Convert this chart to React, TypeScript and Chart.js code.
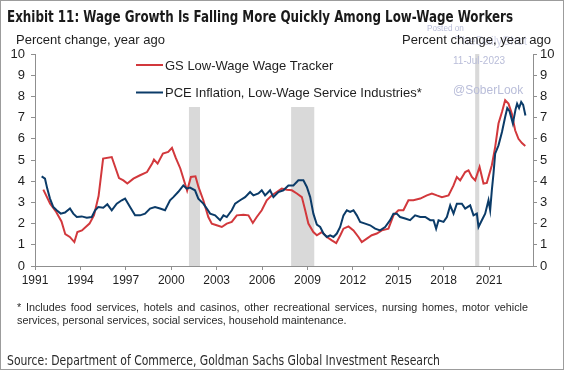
import React, { useEffect, useRef } from "react";
import { Chart, registerables } from "chart.js";
Chart.register(...registerables);

const xTickYears = [1991, 1994, 1997, 2000, 2003, 2006, 2009, 2012, 2015, 2018, 2021];
const yTickValues = [0, 1, 2, 3, 4, 5, 6, 7, 8, 9, 10];
const seriesNames = ["GS Low-Wage Wage Tracker", "PCE Inflation, Low-Wage Service Industries*"];
const recessionStarts = [2001.17, 2007.92, 2020.08];
const recessionEnds = [2001.9, 2009.45, 2020.35];

const redYears = [
  1991.55, 1992.0, 1992.4, 1992.75, 1993.0, 1993.3, 1993.6, 1993.8, 1994.1, 1994.6, 1994.9, 1995.2, 1995.5,
  1996.07, 1996.55, 1996.84, 1997.1, 1997.5, 1997.94, 1998.4, 1998.75, 1998.86, 1999.1, 1999.45, 1999.8,
  2000.05, 2000.3, 2000.6, 2000.9, 2001.05, 2001.3, 2001.6, 2001.8, 2002.12, 2002.45, 2002.68, 2003.0,
  2003.34, 2003.67, 2004.0, 2004.33, 2004.77, 2005.1, 2005.39, 2005.65, 2005.98, 2006.31, 2006.64, 2006.97,
  2007.3, 2007.64, 2007.97, 2008.3, 2008.63, 2008.85, 2009.06, 2009.39, 2009.62, 2009.95, 2010.28, 2010.61,
  2010.9, 2011.17, 2011.38, 2011.71, 2012.04, 2012.37, 2012.59, 2012.92, 2013.25, 2013.58, 2013.91, 2014.35,
  2014.68, 2015.01, 2015.34, 2015.67, 2016.0, 2016.45, 2016.89, 2017.22, 2017.55, 2017.88, 2018.32, 2018.65,
  2018.87, 2019.09, 2019.42, 2019.64, 2019.86, 2020.08, 2020.37, 2020.63, 2020.85, 2021.18, 2021.4, 2021.62,
  2021.85, 2022.06, 2022.28, 2022.5, 2022.72, 2022.94, 2023.17, 2023.39,
];
const redValues = [
  3.6, 2.94, 2.55, 2.1, 1.5, 1.37, 1.13, 1.6, 1.68, 2.0, 2.4, 3.3, 5.07,
  5.14, 4.15, 4.04, 3.89, 4.12, 4.28, 4.43, 4.85, 5.02, 4.83, 5.3, 5.38,
  5.57, 5.1, 4.6, 3.9, 3.55, 4.2, 4.23, 3.73, 3.1, 2.31, 2.0, 1.92,
  1.84, 2.0, 2.08, 2.39, 2.42, 2.39, 2.03, 2.31, 2.63, 3.1, 3.33, 3.49,
  3.65, 3.6, 3.57, 3.42, 3.25, 2.63, 2.0, 1.6, 1.45, 1.6, 1.37, 1.21,
  1.08, 1.45, 1.76, 1.87, 1.68, 1.37, 1.13, 1.29, 1.45, 1.53, 1.68, 1.76,
  2.39, 2.63, 2.63, 3.1, 3.1, 3.18, 3.33, 3.42, 3.33, 3.25, 3.33, 3.8,
  4.2, 4.04, 4.43, 4.51, 4.2, 4.04, 4.67, 3.89, 3.92, 4.75, 5.61, 6.72,
  7.26, 7.82, 7.66, 7.19, 6.4, 6.0, 5.8, 5.66,
];

const blueYears = [
  1991.44, 1991.66, 1991.81, 1991.99, 1992.21, 1992.43, 1992.7, 1992.98, 1993.31, 1993.53, 1993.76, 1994.09,
  1994.42, 1994.75, 1994.97, 1995.18, 1995.51, 1995.78, 1996.07, 1996.4, 1996.73, 1996.95, 1997.28, 1997.61,
  1997.94, 1998.27, 1998.6, 1998.93, 1999.26, 1999.59, 1999.92, 2000.14, 2000.47, 2000.8, 2001.03, 2001.24,
  2001.57, 2001.79, 2002.12, 2002.35, 2002.57, 2002.9, 2003.23, 2003.45, 2003.67, 2004.0, 2004.22, 2004.55,
  2004.88, 2005.21, 2005.43, 2005.76, 2005.98, 2006.2, 2006.53, 2006.75, 2007.08, 2007.41, 2007.74, 2008.07,
  2008.4, 2008.73, 2008.96, 2009.18, 2009.39, 2009.62, 2009.84, 2010.06, 2010.28, 2010.5, 2010.72, 2010.94,
  2011.16, 2011.38, 2011.6, 2011.82, 2012.04, 2012.26, 2012.48, 2012.81, 2013.14, 2013.47, 2013.8, 2014.13,
  2014.46, 2014.68, 2014.9, 2015.12, 2015.45, 2015.78, 2016.11, 2016.45, 2016.78, 2017.11, 2017.33, 2017.5,
  2017.66, 2017.99, 2018.21, 2018.43, 2018.65, 2018.87, 2019.2, 2019.42, 2019.75, 2019.97, 2020.19, 2020.3,
  2020.52, 2020.74, 2020.96, 2021.07, 2021.18, 2021.29, 2021.4, 2021.62, 2021.85, 2022.06, 2022.2, 2022.35,
  2022.57, 2022.75, 2022.85, 2022.98, 2023.12, 2023.25, 2023.4,
];
const blueValues = [
  4.23, 4.12, 3.65, 3.18, 2.78, 2.63, 2.47, 2.52, 2.71, 2.47, 2.31, 2.34,
  2.28, 2.31, 2.63, 2.78, 2.75, 2.91, 2.63, 2.94, 3.1, 3.18, 2.78, 2.39,
  2.39, 2.47, 2.71, 2.78, 2.71, 2.63, 3.1, 3.25, 3.5, 3.8, 3.65, 3.7,
  3.57, 3.18, 2.94, 2.71, 2.47, 2.39, 2.16, 2.39, 2.31, 2.63, 2.94, 3.1,
  3.25, 3.49, 3.33, 3.42, 3.57, 3.33, 3.57, 3.25, 3.49, 3.57, 3.8, 3.8,
  4.04, 4.04, 3.73, 3.25, 2.47, 1.95, 1.84, 1.53, 1.37, 1.45, 1.37, 1.53,
  1.84, 2.39, 2.63, 2.55, 2.63, 2.39, 2.08, 2.0, 1.92, 1.76, 1.68, 1.84,
  2.16, 2.47, 2.47, 2.31, 2.24, 2.16, 2.39, 2.31, 2.31, 2.16, 2.16, 1.76,
  2.16, 2.08, 2.31, 2.86, 2.47, 2.94, 2.94, 2.71, 2.86, 2.39, 2.47, 1.84,
  2.16, 2.47, 3.1, 2.63, 3.57, 4.36, 5.3, 5.69, 6.32, 7.03, 7.45, 7.3,
  6.72, 7.4, 7.66, 7.45, 7.74, 7.6, 7.1,
];

const RED = "#d2383c";
const BLUE = "#0b3b68";
const AXIS = "#8f8f8f";
const TEXT = "#1e1e1e";
const FONT = "'Liberation Sans', Arial, sans-serif";
const NARROW = "'Liberation Sans Narrow', 'DejaVu Sans Condensed', 'Liberation Sans', Arial, sans-serif";

const bandsAndLegend = {
  id: "bandsAndLegend",
  beforeDatasetsDraw(chart: any) {
    const { ctx, chartArea, scales } = chart;
    const xs = scales.x;
    ctx.save();
    ctx.fillStyle = "#d9d9d9";
    recessionStarts.forEach((s, i) => {
      const x1 = xs.getPixelForValue(s);
      const x2 = xs.getPixelForValue(recessionEnds[i]);
      ctx.fillRect(x1, chartArea.top, x2 - x1, chartArea.bottom - chartArea.top);
    });
    // legend box (white, hides the bands behind it)
    ctx.fillStyle = "#ffffff";
    ctx.fillRect(128, chartArea.top, 304, 107 - chartArea.top);
    const rows = [65, 92.5];
    const colors = [RED, BLUE];
    ctx.font = `13px ${FONT}`;
    ctx.textBaseline = "middle";
    ctx.textAlign = "left";
    seriesNames.forEach((name, i) => {
      ctx.strokeStyle = colors[i];
      ctx.lineWidth = 2;
      ctx.beginPath();
      ctx.moveTo(136, rows[i]);
      ctx.lineTo(163, rows[i]);
      ctx.stroke();
      ctx.fillStyle = TEXT;
      ctx.fillText(name, 165, rows[i] + 1);
    });
    ctx.restore();
  },
};

function ScaledText(props: { text: string; style: any; width: number }) {
  const ref = useRef<HTMLSpanElement>(null);
  useEffect(() => {
    const el = ref.current;
    if (!el) return;
    el.style.transform = "none";
    const w = el.getBoundingClientRect().width;
    if (w > 0) el.style.transform = `scaleX(${props.width / w})`;
  }, [props.text, props.width]);
  return (
    <span
      ref={ref}
      style={{ position: "absolute", whiteSpace: "nowrap", transformOrigin: "0 0", ...props.style }}
    >
      {props.text}
    </span>
  );
}

export default function App() {
  const canvasRef = useRef<HTMLCanvasElement>(null);

  useEffect(() => {
    const canvas = canvasRef.current;
    if (!canvas) return;
    const tickFont = { family: FONT, size: 13 };
    const chart = new Chart(canvas, {
      type: "line",
      data: {
        datasets: [
          {
            label: seriesNames[1],
            data: blueYears.map((x, i) => ({ x, y: blueValues[i] })),
            borderColor: BLUE,
            borderWidth: 2,
            pointRadius: 0,
            fill: false,
            tension: 0,
          },
          {
            label: seriesNames[0],
            data: redYears.map((x, i) => ({ x, y: redValues[i] })),
            borderColor: RED,
            borderWidth: 2,
            pointRadius: 0,
            fill: false,
            tension: 0,
          },
        ],
      },
      options: {
        responsive: false,
        animation: false,
        devicePixelRatio: 1,
        layout: { padding: { top: 54, left: 0, right: 0, bottom: 0 } },
        plugins: { legend: { display: false }, tooltip: { enabled: false } },
        scales: {
          x: {
            type: "linear",
            min: 1991,
            max: 2023.9,
            afterBuildTicks: (s: any) => {
              s.ticks = xTickYears.map((v) => ({ value: v }));
            },
            afterFit: (s: any) => {
              s.height = 104;
            },
            grid: { drawOnChartArea: false, drawTicks: true, tickLength: 4, color: AXIS },
            border: { color: AXIS, width: 1 },
            ticks: {
              font: { family: FONT, size: 12 },
              color: TEXT,
              padding: 3,
              maxRotation: 0,
              autoSkip: false,
              callback: (v: any) => String(v),
            },
          },
          y: {
            position: "left",
            min: 0,
            max: 10,
            afterBuildTicks: (s: any) => {
              s.ticks = yTickValues.map((v) => ({ value: v }));
            },
            afterFit: (s: any) => {
              s.width = 35;
            },
            grid: { drawOnChartArea: false, drawTicks: true, tickLength: 4, color: AXIS },
            border: { color: AXIS, width: 1 },
            ticks: { font: tickFont, color: TEXT, padding: 6, callback: (v: any) => String(v) },
          },
          y2: {
            position: "right",
            min: 0,
            max: 10,
            afterBuildTicks: (s: any) => {
              s.ticks = yTickValues.map((v) => ({ value: v }));
            },
            afterFit: (s: any) => {
              s.width = 31;
            },
            grid: { drawOnChartArea: false, drawTicks: true, tickLength: 4, color: AXIS },
            border: { color: AXIS, width: 1 },
            ticks: { font: tickFont, color: TEXT, padding: 3, callback: (v: any) => String(v) },
          },
        },
      } as any,
      plugins: [bandsAndLegend],
    });
    return () => chart.destroy();
  }, []);

  const wm = "#b9bdd9";
  return (
    <div
      style={{
        position: "absolute",
        left: 0,
        top: 0,
        width: 564,
        height: 370,
        background: "#fff",
        overflow: "hidden",
        fontFamily: FONT,
      }}
    >
      <canvas ref={canvasRef} width={564} height={370} style={{ position: "absolute", left: 0, top: 0, width: 564, height: 370 }} />
      <ScaledText
        text="Exhibit 11: Wage Growth Is Falling More Quickly Among Low-Wage Workers"
        width={506}
        style={{ left: 7, top: 10, fontFamily: NARROW, fontWeight: 700, fontSize: 15.5, lineHeight: "15.5px", color: "#1a1a1a" }}
      />
      <span style={{ position: "absolute", left: 427, top: 25, fontSize: 8.2, lineHeight: "8.2px", color: wm, whiteSpace: "nowrap" }}>
        Posted on
      </span>
      <span style={{ position: "absolute", left: 455, top: 35, fontSize: 12, lineHeight: "12px", color: "#d6d8ea", whiteSpace: "nowrap" }}>
        TheDailyShot
      </span>
      <span style={{ position: "absolute", left: 16, top: 33, fontSize: 13, lineHeight: "13px", color: TEXT, whiteSpace: "nowrap" }}>
        Percent change, year ago
      </span>
      <span style={{ position: "absolute", left: 402, top: 33, fontSize: 13, lineHeight: "13px", color: TEXT, whiteSpace: "nowrap" }}>
        Percent change, year ago
      </span>
      <span style={{ position: "absolute", left: 453, top: 56, fontSize: 10, lineHeight: "10px", color: wm, whiteSpace: "nowrap" }}>
        11-Jul-2023
      </span>
      <span style={{ position: "absolute", left: 453, top: 84, fontSize: 12, lineHeight: "12px", color: wm, whiteSpace: "nowrap" }}>
        @SoberLook
      </span>
      <div
        style={{
          position: "absolute",
          left: 17,
          top: 301,
          width: 511,
          fontSize: 10.8,
          lineHeight: "12.7px",
          color: "#2a2a2a",
          textAlign: "justify",
          textAlignLast: "justify",
          whiteSpace: "nowrap",
        }}
      >
        * Includes food services, hotels and casinos, other recreational services, nursing homes, motor vehicle
      </div>
      <div
        style={{
          position: "absolute",
          left: 17,
          top: 313.7,
          fontSize: 10.8,
          lineHeight: "12.7px",
          color: "#2a2a2a",
          whiteSpace: "nowrap",
        }}
      >
        services, personal services, social services, household maintenance.
      </div>
      <ScaledText
        text="Source: Department of Commerce, Goldman Sachs Global Investment Research"
        width={433}
        style={{ left: 7, top: 353, fontFamily: NARROW, fontSize: 14, lineHeight: "14px", color: "#2a2a2a" }}
      />
      <div
        style={{
          position: "absolute",
          left: 0,
          top: 0,
          width: 564,
          height: 370,
          boxSizing: "border-box",
          border: "1px solid #9c9c9c",
          pointerEvents: "none",
        }}
      />
    </div>
  );
}
